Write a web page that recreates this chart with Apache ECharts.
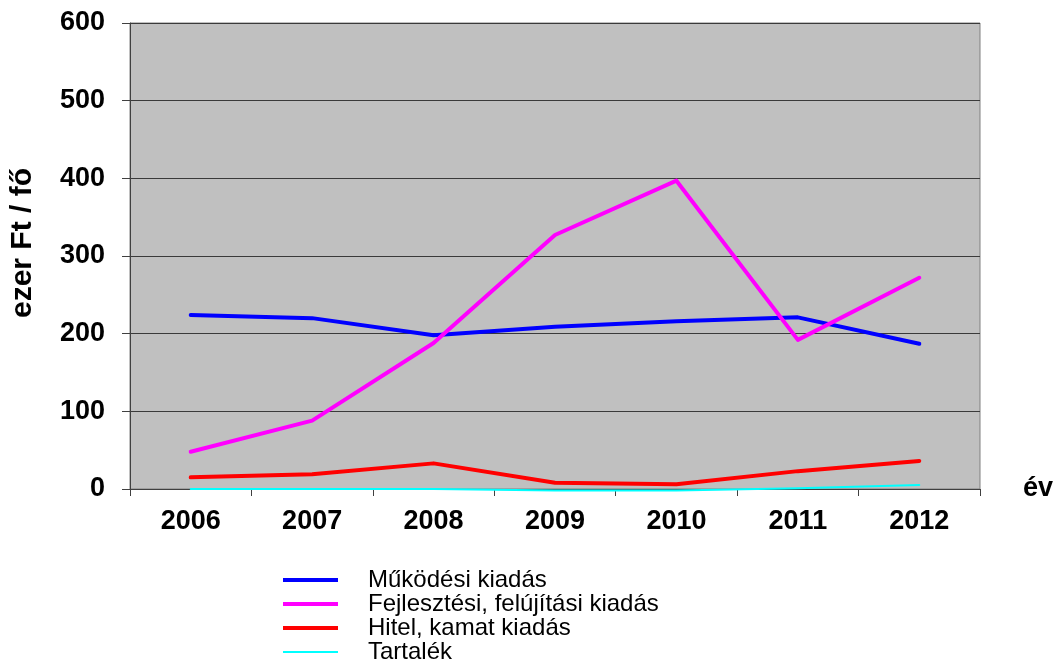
<!DOCTYPE html>
<html>
<head>
<meta charset="utf-8">
<script src="https://cdn.jsdelivr.net/npm/echarts@6/dist/echarts.min.js"></script>
<style>
  html, body { margin: 0; padding: 0; background: #fff; }
  #chart { width: 1059px; height: 666px; }
</style>
</head>
<body>
<div id="chart"></div>
<script>
// évek és kiadások (ezer Ft / fő)
const years = ['2006', '2007', '2008', '2009', '2010', '2011', '2012'];
const mukodesi = [224, 220, 198, 209, 216, 221, 187];
const fejlesztesi = [48, 88, 188, 327, 397, 192, 272];
const hitel = [15, 19, 33, 8, 6, 23, 36];
const tartalek = [0, 0, 0, -2, -2, 1, 5];

const chart = echarts.init(document.getElementById('chart'));

function line(name, data, color, width) {
    return {
        name: name,
        type: 'line',
        data: data,
        symbol: 'none',
        clip: false,
        lineStyle: { color: color, width: width, cap: 'round', join: 'round' },
        itemStyle: { color: color }
    };
}

const font = 'Arial, "Liberation Sans", sans-serif';
// vastag és vékony jelmagyarázat-vonal
const thickIcon = 'path://M0,0H55V4H0Z';
const thinIcon = 'path://M0,0H55V0.02H0Z M0,1H55V3H0Z M0,3.98H55V4H0Z';

chart.setOption({
    animation: false,
    grid: {
        left: 129, right: 79, top: 23, bottom: 177,
        show: true,
        backgroundColor: '#c0c0c0',
        borderColor: '#808080',
        borderWidth: 1
    },
    legend: {
        orient: 'vertical',
        left: 283,
        top: 568,
        width: 500,
        height: 98,
        padding: 0,
        itemWidth: 55,
        itemHeight: 4,
        itemGap: 0,
        data: [
            { name: 'Működési kiadás', icon: thickIcon },
            { name: 'Fejlesztési, felújítási kiadás', icon: thickIcon },
            { name: 'Hitel, kamat kiadás', icon: thickIcon },
            { name: 'Tartalék', icon: thinIcon }
        ],
        textStyle: {
            fontFamily: font, fontSize: 24, color: '#000',
            lineHeight: 24, padding: [0, 0, 0, 25]
        }
    },
    xAxis: {
        type: 'category',
        data: years,
        boundaryGap: true,
        name: 'év',
        nameLocation: 'end',
        nameGap: 43,
        nameTextStyle: { fontFamily: font, fontSize: 27, fontWeight: 'bold', color: '#000', padding: [16, 0, 0, 0] },
        axisLine: { lineStyle: { color: '#404040', width: 1 } },
        axisTick: { show: true, length: 7, interval: 0, lineStyle: { color: '#404040' } },
        axisLabel: { fontFamily: font, fontSize: 27, fontWeight: 'bold', color: '#000', margin: 19 }
    },
    yAxis: {
        type: 'value',
        min: 0,
        max: 600,
        interval: 100,
        name: 'ezer Ft / fő',
        nameLocation: 'middle',
        nameGap: 92,
        nameRotate: 90,
        nameTextStyle: { fontFamily: font, fontSize: 30, fontWeight: 'bold', color: '#000', padding: [0, 0, 0, 26] },
        axisLine: { show: true, lineStyle: { color: '#404040', width: 1 } },
        axisTick: { show: true, length: 8, lineStyle: { color: '#404040' } },
        axisLabel: { fontFamily: font, fontSize: 27, fontWeight: 'bold', color: '#000', margin: 25 },
        splitLine: { show: true, lineStyle: { color: '#3a3a3a', width: 1 } }
    },
    series: [
        line('Működési kiadás', mukodesi, '#0000ff', 4),
        line('Fejlesztési, felújítási kiadás', fejlesztesi, '#ff00ff', 4),
        line('Hitel, kamat kiadás', hitel, '#ff0000', 4),
        line('Tartalék', tartalek, '#00ffff', 2)
    ]
});
</script>
</body>
</html>
